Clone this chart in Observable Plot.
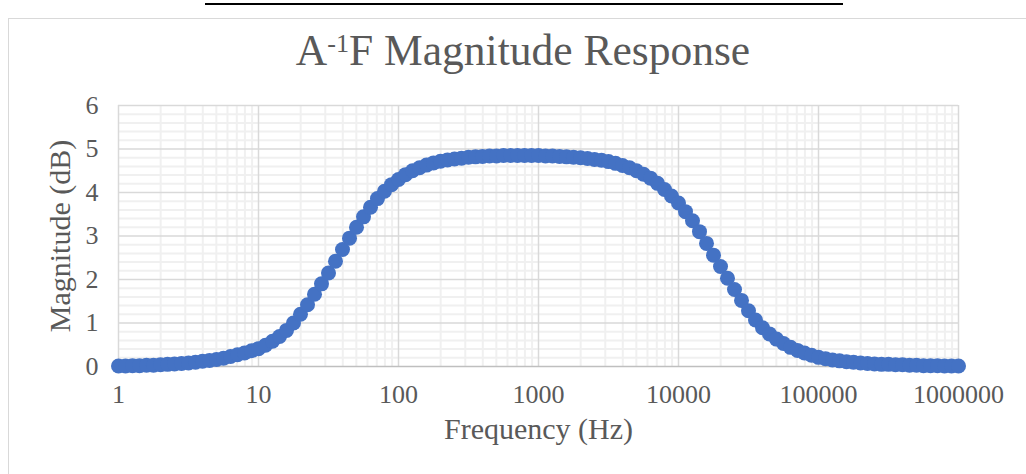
<!DOCTYPE html>
<html>
<head>
<meta charset="utf-8">
<script src="https://cdn.jsdelivr.net/npm/d3@7"></script>
<script src="https://cdn.jsdelivr.net/npm/@observablehq/plot@0.6"></script>
<style>
  html, body { margin: 0; padding: 0; background: #fff; }
  #wrap { position: relative; width: 1026px; height: 474px; overflow: hidden; font-family: "Liberation Serif", "DejaVu Serif", serif; }
  #rule { position: absolute; left: 205px; top: 3px; width: 638px; height: 2px; background: #000; }
  #frame { position: absolute; left: 8px; top: 18px; width: 1100px; height: 600px; border-left: 1.5px solid #d9d9d9; border-top: 1.5px solid #d9d9d9; }
  #title { position: absolute; left: 0; width: 1046px; top: 29px; line-height: 1; text-align: center; font-size: 43.5px; color: #595959; white-space: nowrap; }
  #title sup { font-size: 0.6em; vertical-align: 0; position: relative; top: -0.5em; }
  #chart { position: absolute; left: 0; top: 0; }
</style>
</head>
<body>
<div id="wrap">
  <div id="rule"></div>
  <div id="frame"></div>
  <div id="chart"></div>
  <div id="title">A<sup>-1</sup>F Magnitude Response</div>
</div>
<script>
// Frequency sweep (Hz), 20 points per decade
const frequency = [
  1, 1.122, 1.259, 1.413, 1.585, 1.778, 1.995, 2.239, 2.512, 2.818, 3.162, 3.548, 3.981, 4.467, 5.012, 5.623, 6.310, 7.079, 7.943, 8.913,
  10, 11.22, 12.59, 14.13, 15.85, 17.78, 19.95, 22.39, 25.12, 28.18, 31.62, 35.48, 39.81, 44.67, 50.12, 56.23, 63.10, 70.79, 79.43, 89.13,
  100, 112.2, 125.9, 141.3, 158.5, 177.8, 199.5, 223.9, 251.2, 281.8, 316.2, 354.8, 398.1, 446.7, 501.2, 562.3, 631.0, 707.9, 794.3, 891.3,
  1000, 1122, 1259, 1413, 1585, 1778, 1995, 2239, 2512, 2818, 3162, 3548, 3981, 4467, 5012, 5623, 6310, 7079, 7943, 8913,
  10000, 11220, 12589, 14125, 15849, 17783, 19953, 22387, 25119, 28184, 31623, 35481, 39811, 44668, 50119, 56234, 63096, 70795, 79433, 89125,
  100000, 112202, 125893, 141254, 158489, 177828, 199526, 223872, 251189, 281838, 316228, 354813, 398107, 446684, 501187, 562341, 630957, 707946, 794328, 891251,
  1000000
];

// Magnitude of A^-1 F (dB) at each frequency
const magnitudeDb = [
  0.01, 0.01, 0.02, 0.02, 0.03, 0.03, 0.04, 0.05, 0.06, 0.07, 0.08, 0.10, 0.12, 0.14, 0.16, 0.19, 0.23, 0.27, 0.31, 0.36,
  0.41, 0.49, 0.58, 0.69, 0.83, 1.00, 1.20, 1.42, 1.66, 1.90, 2.15, 2.42, 2.69, 2.95, 3.20, 3.44, 3.66, 3.86, 4.03, 4.18,
  4.30, 4.41, 4.50, 4.57, 4.63, 4.68, 4.72, 4.75, 4.77, 4.79, 4.81, 4.82, 4.83, 4.84, 4.84, 4.85, 4.85, 4.85, 4.85, 4.85,
  4.85, 4.84, 4.84, 4.83, 4.82, 4.81, 4.80, 4.78, 4.76, 4.74, 4.71, 4.67, 4.62, 4.57, 4.50, 4.42, 4.33, 4.21, 4.07, 3.92,
  3.76, 3.56, 3.35, 3.10, 2.83, 2.56, 2.30, 2.03, 1.77, 1.52, 1.28, 1.07, 0.89, 0.75, 0.63, 0.53, 0.44, 0.37, 0.31, 0.26,
  0.21, 0.18, 0.15, 0.13, 0.11, 0.10, 0.08, 0.07, 0.06, 0.05, 0.05, 0.04, 0.04, 0.03, 0.03, 0.02, 0.02, 0.02, 0.01, 0.01,
  0.01
];

const xTicks = [1, 10, 100, 1000, 10000, 100000, 1000000];
const yTicks = [0, 1, 2, 3, 4, 5, 6];

const data = frequency.map((f, i) => ({f, db: magnitudeDb[i]}));

// Minor grid positions: 2..9 within each decade, and every 0.2 dB
const xMinor = d3.scaleLog().domain([1, 1e6]).ticks().filter(v => !xTicks.includes(v));
const yMinor = d3.range(0, 30).map(i => i / 5).filter(v => !Number.isInteger(v));

const textColor = "#595959";

const chart = Plot.plot({
  width: 1026,
  height: 474,
  marginLeft: 118,
  marginRight: 68,
  marginTop: 105,
  marginBottom: 108,
  style: {background: "transparent", fontFamily: "'Liberation Serif', 'DejaVu Serif', serif", color: textColor},
  x: {type: "log", domain: [1, 1e6]},
  y: {domain: [0, 6]},
  marks: [
    Plot.ruleX(xMinor, {stroke: "#f0f0f0", strokeWidth: 2}),
    Plot.ruleY(yMinor, {stroke: "#f0f0f0", strokeWidth: 2}),
    Plot.ruleX(xTicks, {stroke: "#d9d9d9", strokeWidth: 1.5}),
    Plot.ruleY(yTicks.filter(v => v > 0), {stroke: "#d9d9d9", strokeWidth: 1.5}),
    Plot.ruleY([0], {stroke: "#bfbfbf", strokeWidth: 1.5}),
    Plot.axisX({ticks: xTicks, tickFormat: d3.format("d"), tickSize: 0, tickPadding: 18, fontSize: 26, label: null}),
    Plot.axisY({ticks: yTicks, tickFormat: d3.format("d"), tickSize: 0, tickPadding: 20, fontSize: 26, label: null}),
    Plot.text(["Frequency (Hz)"], {frameAnchor: "bottom", dy: 72, fontSize: 30, fill: textColor}),
    Plot.text(["Magnitude (dB)"], {frameAnchor: "left", textAnchor: "middle", dx: -58, rotate: -90, fontSize: 30, fill: textColor}),
    Plot.dot(data, {x: "f", y: "db", r: 7.5, fill: "#4472c4", stroke: "none"})
  ]
});

document.getElementById("chart").appendChild(chart);
</script>
</body>
</html>
